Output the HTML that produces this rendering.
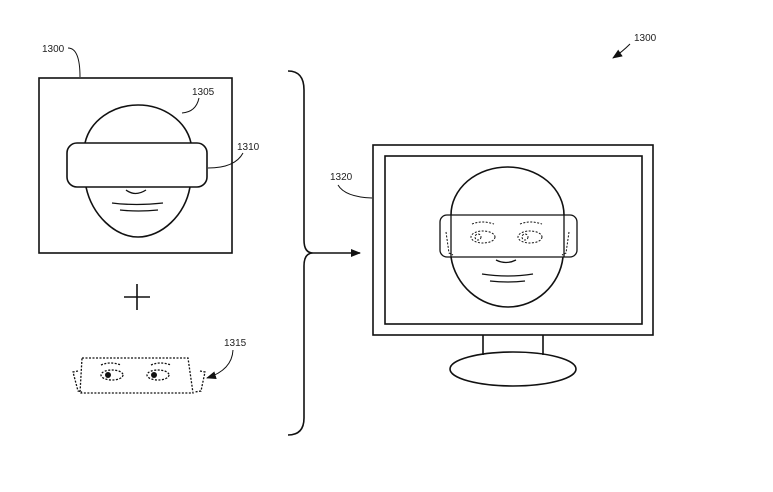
<!DOCTYPE html>
<html><head><meta charset="utf-8"><style>
html,body{margin:0;padding:0;background:#fff;}
svg{display:block;}
text{font-family:"Liberation Sans",sans-serif;font-size:10px;fill:#222;}
</style></head><body>
<svg width="773" height="492" viewBox="0 0 773 492" xmlns="http://www.w3.org/2000/svg" fill="none" stroke="#111" stroke-width="1.6">
<defs><marker id="ah" markerWidth="10" markerHeight="8" refX="9" refY="4" orient="auto" markerUnits="userSpaceOnUse"><path d="M0,0 L10,4 L0,8 z" fill="#111" stroke="none"/></marker></defs>
<text x="634" y="41" stroke="none">1300</text>
<path d="M630,44 Q622,52 613,58" stroke-width="1" marker-end="url(#ah)"/>
<text x="42" y="52" stroke="none">1300</text>
<path d="M68,48 Q80,48 80,77" stroke-width="1"/>
<rect x="39" y="78" width="193" height="175"/>
<path d="M85,143 A54,47 0 0 1 191,143"/>
<path d="M86,187 C92,215 115,237 138,237 C162,237 185,215 190,187"/>
<rect x="67" y="143" width="140" height="44" rx="10"/>
<path d="M126,190 Q135,197 146,190" stroke-width="1.3"/>
<path d="M112,203 Q136,206 163,203" stroke-width="1.3"/>
<path d="M120,210 Q138,212 158,210" stroke-width="1.3"/>
<text x="192" y="95" stroke="none">1305</text>
<path d="M199,98 Q196,112 182,113" stroke-width="1"/>
<text x="237" y="150" stroke="none">1310</text>
<path d="M243,153 Q235,168 208,168" stroke-width="1"/>
<path d="M137,284 V310 M124,297 H150" stroke-width="1.6"/>
<g stroke-dasharray="2,1.5" stroke-width="1.3">
<path d="M82,358 H188 L193,393 H80 Z"/>
<path d="M78,371 L73,372 L78,391 L82,392"/>
<path d="M200,371 L205,372 L201,391 L195,392"/>
<path d="M101,365 Q110,361 121,365"/>
<path d="M151,365 Q160,361 171,365"/>
<ellipse cx="112" cy="375" rx="11" ry="5"/>
<ellipse cx="158" cy="375" rx="11" ry="5"/>
</g>
<circle cx="108" cy="375" r="3" fill="#111" stroke="none"/>
<circle cx="154" cy="375" r="3" fill="#111" stroke="none"/>
<text x="224" y="346" stroke="none">1315</text>
<path d="M233,350 Q232,370 207,378" stroke-width="1" marker-end="url(#ah)"/>
<path d="M288,71 Q304,71 304,90 V240 Q304,253 313,253 Q304,253 304,266 V418 Q304,435 288,435"/>
<path d="M313,253 H360" marker-end="url(#ah)"/>
<text x="330" y="180" stroke="none">1320</text>
<path d="M338,185 Q345,197 372,198" stroke-width="1"/>
<rect x="373" y="145" width="280" height="190"/>
<rect x="385" y="156" width="257" height="168"/>
<path d="M483,335 V355 M543,335 V355"/>
<ellipse cx="513" cy="369" rx="63" ry="17"/>
<path d="M451,215 A56.5,48 0 0 1 564,215"/>
<path d="M451,257 C455,285 480,307 508,307 C536,307 560,285 563,257"/>
<rect x="440" y="215" width="137" height="42" rx="7" stroke-width="1.3"/>
<path d="M451,215 V257 M564,215 V257" stroke-width="1.3"/>
<path d="M496,260 Q506,265 516,260" stroke-width="1.3"/>
<path d="M482,274 Q508,278 533,274" stroke-width="1.3"/>
<path d="M490,281 Q508,283 525,281" stroke-width="1.3"/>
<g stroke-dasharray="2,1.5" stroke-width="1">
<path d="M472,224 Q482,220 494,224"/>
<path d="M520,224 Q530,220 542,224"/>
<ellipse cx="483" cy="237" rx="12" ry="6"/>
<ellipse cx="530" cy="237" rx="12" ry="6"/>
<circle cx="478" cy="237" r="3"/>
<circle cx="525" cy="237" r="3"/>
<path d="M446,232 L449,253 L453,255"/>
<path d="M569,232 L566,253 L562,255"/>
</g>
</svg>
</body></html>
